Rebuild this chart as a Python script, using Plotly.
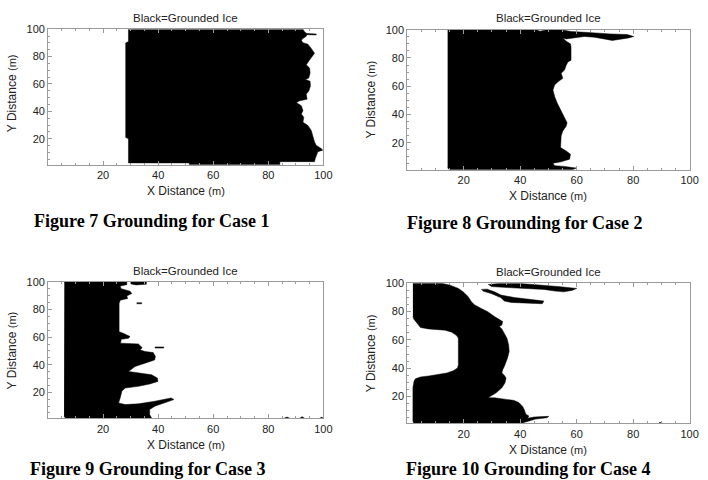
import plotly.graph_objects as go

# ---------------- data (boundaries of grounded-ice regions, in metres) -------------
case1_x = [29.2, 29.2, 28.2, 28.2, 29.2, 29.2, 51.3, 51.3, 84.2, 84.2, 96.8, 97.1, 98.0, 99.8, 99.2, 97.4,
           96.8, 96.2, 95.6, 94.4, 92.6, 92.9, 92.0, 92.6, 92.0, 90.2, 91.4, 94.1, 93.8, 94.7, 95.3, 95.2,
           93.5, 94.7, 95.2, 95.0, 93.8, 95.0, 95.9, 96.8, 95.6, 94.4, 92.6, 92.0, 92.6, 93.8, 94.0, 97.4,
           97.4, 94.0, 93.2, 92.6]
case1_y = [100, 91, 90, 21, 20, 2.4, 2.4, 1, 1, 3.3, 3.3, 5.7, 10.5, 11.7, 12.9, 15.3,
           17.7, 22.5, 26.1, 29.7, 32.1, 35.7, 38.1, 40.5, 44.1, 46.5, 47.7, 48.9, 52.5, 54.8, 58.4, 62.0,
           63.2, 64.4, 68.0, 71.6, 74.0, 77.6, 80.0, 82.4, 86.0, 89.1, 90.1, 92.0, 93.2, 94.9, 96.0, 95.8,
           96.5, 96.9, 98.0, 100]

case2_x = [14.3, 45.8, 47.0, 48.7, 49.3, 54.5, 58.0, 62.7, 67.4, 72.0, 77.9, 80.2, 78.4, 75.5, 72.6,
           69.7, 66.2, 62.7, 59.2, 56.3, 55.1, 56.3, 57.8, 58.0, 58.0, 56.9, 56.3, 55.7, 54.5, 55.1, 53.4,
           52.2, 51.6, 52.2, 53.1, 54.0, 54.8, 55.7, 56.6, 56.3, 55.1, 54.5, 54.5, 54.3, 56.3, 57.8, 57.5,
           54.5, 51.6, 52.2, 55.7, 59.8, 58.6, 14.9, 14.3]
case2_y = [100, 100, 98.9, 99.4, 100, 100, 98.7, 98.2, 97.5, 97.0, 96.6, 95.2, 94.2, 93.5, 92.4,
           93.5, 94.7, 95.2, 94.2, 93.5, 94.2, 91.9, 90.0, 87.7, 78.4, 77.2, 74.9, 71.4, 69.1, 65.6, 63.2,
           60.9, 57.4, 52.7, 48.1, 44.6, 41.1, 37.6, 34.1, 31.8, 28.3, 24.8, 20.1, 16.6, 14.2, 11.9, 8.4,
           6.5, 5.6, 3.8, 3.3, 2.1, 1.0, 1.0, 2.1]

case3_x = [5.9, 28.6, 28.6, 26.2, 26.5, 29.8, 30.4, 28.6, 28.9, 26.2, 25.8, 25.8, 27.3, 29.8, 29.2,
           26.6, 26.3, 32.8, 34.2, 33.4, 35.2, 38.2, 39.0, 38.7, 35.2, 31.6, 29.2, 34.0, 37.6, 39.7, 39.9,
           36.9, 32.8, 28.0, 26.8, 26.2, 25.6, 28.0, 32.8, 38.8, 44.7, 45.7, 41.1, 38.8, 36.9, 36.9, 37.7,
           6.4, 5.8]
case3_y = [100, 100, 98.1, 97.1, 95.2, 93.3, 91.6, 89.9, 88.0, 86.8, 84.4, 64.0, 62.8, 60.4, 59.2,
           58.4, 55.6, 55.1, 52.4, 50.8, 49.6, 48.8, 45.9, 43.5, 41.1, 38.7, 35.1, 33.9, 32.7, 30.3, 27.9,
           26.0, 24.3, 23.1, 20.7, 15.9, 12.3, 11.1, 11.6, 13.5, 15.9, 14.7, 11.8, 9.9, 7.5, 3.9, 1.0,
           1.0, 2.7]
case3_islands_x = [[30.1, 35.7, 35.7, 32.0, 30.1], [32.2, 34.0, 34.0, 32.2], [38.8, 42.0, 42.0, 38.8],
                   [85.5, 86.8, 88.0], [91.3, 92.3, 93.3], [98.5, 99.5, 100]]
case3_islands_y = [[100, 100, 98.4, 97.9, 98.6], [85.0, 85.0, 84.2, 84.2], [52.9, 52.9, 52.1, 52.1],
                   [1, 2.0, 1], [1, 2.3, 1], [1, 2.0, 1]]

case4_x = [2.0, 12.2, 15.2, 18.1, 19.8, 21.6, 22.7, 23.9, 26.2, 28.5, 30.9, 32.6, 33.8, 33.5, 32.6,
           33.5, 34.4, 35.3, 35.9, 36.1, 35.5, 35.0, 34.4, 33.8, 33.5, 34.2, 35.0, 34.6, 33.5, 31.5, 29.7,
           28.6, 30.9, 35.6, 37.9, 39.6, 40.8, 41.4, 42.0, 43.1, 42.6, 44.9, 50.1, 49.5, 45.5, 43.1, 41.4,
           40.2, 2.3, 2.0, 2.0, 2.4, 2.9, 4.7, 7.6, 11.1, 14.0, 16.3, 17.8, 18.1, 18.1, 17.5, 15.8, 13.4,
           7.6, 4.7, 3.5, 2.3, 2.0]
case4_y = [100, 100, 98.6, 96.3, 93.9, 90.4, 86.9, 84.6, 82.2, 79.9, 76.4, 74.0, 72.9, 70.5, 69.4,
           67.7, 64.7, 61.2, 56.5, 51.8, 47.1, 43.6, 41.3, 38.9, 36.6, 35.4, 33.1, 29.6, 26.1, 22.6, 20.2,
           19.1, 19.1, 17.9, 17.2, 15.6, 13.2, 10.9, 7.4, 6.2, 4.6, 5.5, 6.0, 5.0, 4.1, 2.7, 1.5,
           1.0, 1.0, 2.7, 26.1, 30.8, 32.6, 33.8, 34.5, 35.4, 36.6, 38.2, 40.1, 42.5, 61.2, 63.0, 65.4, 66.8,
           67.7, 68.7, 71.7, 74.7, 76.4]
case4_islands_x = [[28.6, 32.1, 40.2, 44.9, 49.5, 54.2, 60.0, 58.3, 55.4, 52.4, 48.4, 42.6, 35.6, 29.7],
                   [26.2, 28.3, 30.9, 33.2, 37.9, 43.7, 48.4, 47.8, 42.5, 36.8, 34.4, 33.2, 29.7, 26.8],
                   [89.2, 90.2, 90.2, 89.2]]
case4_islands_y = [[99.0, 99.8, 99.8, 99.2, 98.3, 97.5, 96.3, 94.9, 93.9, 94.4, 95.6, 96.4, 96.9, 97.6],
                   [95.6, 95.8, 93.9, 91.6, 89.9, 88.8, 87.4, 85.5, 85.7, 86.4, 87.4, 89.7, 92.7, 94.4],
                   [1, 1, 1.6, 1.6]]

panel_title = "Black=Grounded Ice"
x_title = "X Distance"
y_title = "Y Distance"
captions = ["Figure 7 Grounding for Case 1", "Figure 8 Grounding for Case 2",
            "Figure 9 Grounding for Case 3", "Figure 10 Grounding for Case 4"]
tick_vals = [20, 40, 60, 80, 100]

# ---------------- layout geometry ----------------
W, H = 708, 480
def px_x(p): return p / W
def px_y(p): return 1 - p / H

panels = [
    dict(x=(48.7, 327.5), y=(23.5, 160.8)),
    dict(x=(412.5, 698.5), y=(24.0, 165.7)),
    dict(x=(48.7, 327.5), y=(279.5, 417.7)),
    dict(x=(412.5, 698.5), y=(280.7, 422.7)),
]

shapes_per_panel = [
    [(case1_x, case1_y)],
    [(case2_x, case2_y)],
    [(case3_x, case3_y)] + list(zip(case3_islands_x, case3_islands_y)),
    [(case4_x, case4_y)] + list(zip(case4_islands_x, case4_islands_y)),
]

fig = go.Figure()
FRAME = "#9a9a9a"
TXT = "#222222"
layout = dict(width=W, height=H, margin=dict(l=0, r=0, t=0, b=0),
              paper_bgcolor="white", plot_bgcolor="white", showlegend=False)

annotations = []
for i, (pan, polys) in enumerate(zip(panels, shapes_per_panel)):
    n = "" if i == 0 else str(i + 1)
    for xs, ys in polys:
        fig.add_trace(go.Scatter(x=xs, y=ys, mode="lines", fill="toself", fillcolor="black",
                                 line=dict(color="black", width=0.5), hoverinfo="skip",
                                 xaxis="x" + n, yaxis="y" + n))
    common = dict(showgrid=False, zeroline=False, showline=True, linecolor=FRAME, linewidth=1,
                  ticks="inside", ticklen=4, tickcolor=FRAME, tickvals=tick_vals,
                  tickfont=dict(family="Liberation Sans, Arial", size=11, color=TXT),
                  minor=dict(dtick=5, ticklen=2, ticks="inside", tickcolor=FRAME, showgrid=False))
    layout["xaxis" + n] = dict(common, domain=[px_x(pan["x"][0]), px_x(pan["x"][1])],
                               range=[0, 100], anchor="y" + n, mirror="ticks")
    layout["yaxis" + n] = dict(common, domain=[px_y(pan["y"][1]), px_y(pan["y"][0])],
                               range=[1, 100], anchor="x" + n, mirror=True)
    cx = (pan["x"][0] + pan["x"][1]) / 2
    cy = (pan["y"][0] + pan["y"][1]) / 2
    # panel title
    annotations.append(dict(text=panel_title, x=px_x(cx), y=px_y(pan["y"][0] - 11.5), xref="paper",
                            yref="paper", showarrow=False, xanchor="center", yanchor="middle",
                            font=dict(family="Liberation Sans, Arial", size=11.5, color=TXT)))
    # x-axis title
    annotations.append(dict(text=x_title + " <span style='font-size:11px'>(m)</span>", x=px_x(cx),
                            y=px_y(pan["y"][1] + 26.5), xref="paper", yref="paper", showarrow=False,
                            xanchor="center", yanchor="middle",
                            font=dict(family="Liberation Sans, Arial", size=12, color=TXT)))
    # y-axis title
    ytx = 12.3 if i % 2 == 0 else 375.7
    yc = cy - (4 if i == 0 else 0)
    annotations.append(dict(text=y_title + " <span style='font-size:11px'>(m)</span>", x=px_x(ytx),
                            y=px_y(yc), xref="paper", yref="paper", showarrow=False, textangle=-90,
                            xanchor="center", yanchor="middle",
                            font=dict(family="Liberation Sans, Arial", size=12, color=TXT)))

cap_pos = [(154, 218), (532, 220), (150, 469), (535, 469)]
for cap, (cx, cy) in zip(captions, cap_pos):
    annotations.append(dict(text="<b>" + cap + "</b>", x=px_x(cx), y=px_y(cy), xref="paper",
                            yref="paper", showarrow=False, xanchor="center", yanchor="middle",
                            font=dict(family="Liberation Serif, Times New Roman", size=18,
                                      color="black")))

layout["annotations"] = annotations
fig.update_layout(**layout)
fig.write_html("out.html")
